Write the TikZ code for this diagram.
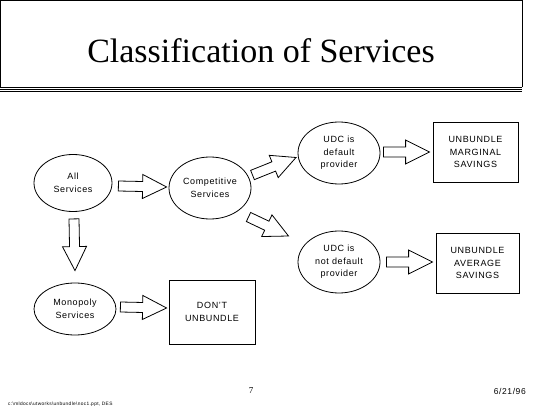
\documentclass[tikz,border=0pt]{standalone}
\usepackage{fontspec}
\setmainfont{Liberation Serif}
\setsansfont{Liberation Sans}[LetterSpace=7]
\usetikzlibrary{shapes.geometric,calc}
\tikzset{
  ell/.style={draw,ellipse,line width=0.8pt,inner sep=0pt,align=center,font=\sffamily\fontsize{9}{12.5}\selectfont},
  rbox/.style={draw,rectangle,line width=0.8pt,inner sep=0pt,align=center,font=\sffamily\fontsize{9}{12.5}\selectfont},
  barrowline/.style={draw,line width=0.8pt,line join=miter}
}
\newcommand{\blockarrow}[2]{%
  \coordinate (tmpB) at ($(#2)!24pt!(#1)$);
  \path[barrowline] ($(#1)!5pt!90:(#2)$) -- ($(tmpB)!5pt!90:(#2)$) -- ($(tmpB)!12pt!90:(#2)$) -- (#2)
     -- ($(tmpB)!12pt!-90:(#2)$) -- ($(tmpB)!5pt!-90:(#2)$) -- ($(#1)!5pt!-90:(#2)$) -- cycle;}
\begin{document}
\begin{tikzpicture}[x=1pt,y=-1pt]
\useasboundingbox[fill=white] (0,0) rectangle (550,412);
% title frame
\draw[line width=0.8pt] (0.5,87.5) -- (0.5,0.5) -- (522,0.5) -- (522,87.5);
\draw[line width=1.2pt] (0,87.5) -- (522.4,87.5);
\draw[line width=0.7pt] (0,89.5) -- (522.4,89.5);
\draw[line width=0.9pt] (0,91.3) -- (522.4,91.3);
\node[anchor=base,font=\fontsize{34}{40}\selectfont,inner sep=0pt] (title) at (261,63) {Classification of Services};
% nodes
\node[ell,minimum width=78pt,minimum height=57pt] (all) at (73,183) {All\\Services};
\node[ell,minimum width=82pt,minimum height=62pt] (comp) at (210,188) {Competitive\\Services};
\node[ell,minimum width=82pt,minimum height=52pt] (mono) at (75,309) {Monopoly\\Services};
\node[ell,minimum width=82pt,minimum height=62pt] (udca) at (339,153) {UDC is\\default\\provider};
\node[ell,minimum width=82pt,minimum height=62pt] (udcb) at (339,262) {UDC is\\not default\\provider};
\node[rbox,minimum width=85pt,minimum height=60pt] (marg) at (475.5,152) {UNBUNDLE\\MARGINAL\\SAVINGS};
\node[rbox,minimum width=83pt,minimum height=60pt] (avg) at (477.5,263) {UNBUNDLE\\AVERAGE\\SAVINGS};
\node[rbox,minimum width=86pt,minimum height=64pt] (dont) at (212,312) {DON'T\\UNBUNDLE};
% arrow end points
\coordinate (a1t) at ($(all.east)+(6,3)$);
\coordinate (a1h) at ($(comp.west)+(-2,-1)$);
\coordinate (a2t) at ($(all.south)+(1,7)$);
\coordinate (a2h) at ($(mono.north)+(0,-12)$);
\coordinate (a3t) at ($(mono.east)+(4,-2)$);
\coordinate (a3h) at ($(dont.west)+(-2,-4)$);
\coordinate (a4t) at (252.5,175);
\coordinate (a4h) at (296,157.5);
\coordinate (a5t) at (248.5,217);
\coordinate (a5h) at (288.5,236);
\coordinate (a6t) at ($(udca.east)+(3,-1)$);
\coordinate (a6h) at ($(marg.west)+(-3,0)$);
\coordinate (a7t) at ($(udcb.east)+(6,0)$);
\coordinate (a7h) at ($(avg.west)+(-3,-1)$);
\blockarrow{a1t}{a1h}
\blockarrow{a2t}{a2h}
\blockarrow{a3t}{a3h}
\blockarrow{a4t}{a4h}
\blockarrow{a5t}{a5h}
\blockarrow{a6t}{a6h}
\blockarrow{a7t}{a7h}
% footer
\node[anchor=base west,inner sep=0pt,font=\sffamily\fontsize{4.8}{5}\selectfont] (path) at (8,405) {c:\textbackslash mldocs\textbackslash utworks\textbackslash unbundle\textbackslash noc1.ppt, DES};
\node[anchor=base,inner sep=0pt,font=\fontsize{9}{10}\selectfont] (page) at (251,393) {7};
\node[anchor=base east,inner sep=0pt,font=\sffamily\fontsize{8.5}{10}\selectfont] (date) at (526,394) {6/21/96};
\end{tikzpicture}
\end{document}
